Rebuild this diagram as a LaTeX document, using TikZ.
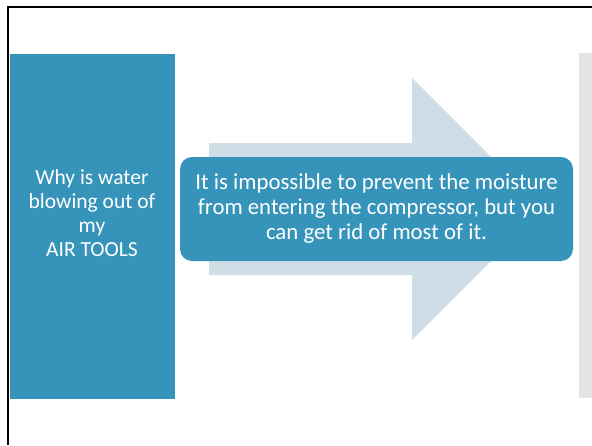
\documentclass[tikz,border=0pt]{standalone}
\usepackage{fontspec}
\setmainfont{Carlito}
\definecolor{tealblue}{HTML}{3693BA}
\definecolor{arrowgrey}{HTML}{CFDDE7}
\definecolor{panelgrey}{HTML}{E4E4E4}
\tikzset{
  bluepanel/.style={fill=tealblue, draw=none},
  whitetext/.style={text=white, align=center},
}
\begin{document}
\begin{tikzpicture}[x=1pt,y=-1pt]
\useasboundingbox (0,0) rectangle (592,445);
\fill[white] (0,0) rectangle (592,445);
% frame
\draw[black, line width=2pt] (8,445) -- (8,7) -- (592,7);
% left panel
\fill[bluepanel] (9.5,54) rectangle (175,399);
\node[whitetext, font=\fontsize{21.5}{24}\selectfont] (q) at (92,213) {Why is water\\blowing out of\\my\\AIR TOOLS};
% right grey panel
\fill[panelgrey] (579,53) rectangle (592,398);
% arrow
\fill[arrowgrey] (209,143) -- (412,143) -- (412,78) -- (543,209) -- (412,340) -- (412,275) -- (209,275) -- cycle;
% rounded box
\node[whitetext, fill=tealblue, rounded corners=12pt, minimum width=393pt, minimum height=104pt, inner sep=0pt,
      font=\fontsize{22.8}{25}\selectfont] (a) at (376.5,209)
  {It is impossible to prevent the moisture\\from entering the compressor, but you\\can get rid of most of it.};
\end{tikzpicture}
\end{document}
